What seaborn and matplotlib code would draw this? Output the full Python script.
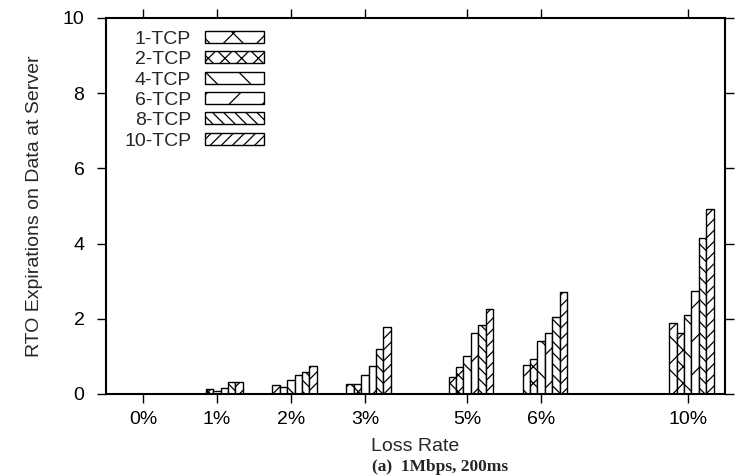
import matplotlib
matplotlib.use("Agg")
import matplotlib.pyplot as plt
import seaborn as sns
import pandas as pd
from matplotlib.patches import Patch

# ---- data ----
loss_labels = ["0%", "1%", "2%", "3%", "5%", "6%", "10%"]
loss_pos = [0.0, 1.0, 2.0, 3.0, 4.38, 5.38, 7.36]   # axis position of each loss-rate group
series = ["1-TCP", "2-TCP", "4-TCP", "6-TCP", "8-TCP", "10-TCP"]
tcp1 = [0.0, 0.00, 0.25, 0.27, 0.44, 0.77, 1.89]
tcp2 = [0.0, 0.12, 0.19, 0.27, 0.71, 0.93, 1.61]
tcp4 = [0.0, 0.08, 0.38, 0.51, 1.02, 1.42, 2.11]
tcp6 = [0.0, 0.17, 0.51, 0.74, 1.61, 1.62, 2.75]
tcp8 = [0.0, 0.31, 0.58, 1.19, 1.84, 2.06, 4.15]
tcp10 = [0.0, 0.33, 0.75, 1.79, 2.25, 2.70, 4.93]
y_ticks = [0, 2, 4, 6, 8, 10]

# ---- styling ----
hatches = ["x", "xx", "\\", "/", "\\\\\\", "///"]
group_shift = 0.05
FS = 14

sns.set_style("ticks")
plt.rcParams["font.family"] = ["Liberation Sans", "DejaVu Sans"]
plt.rcParams["hatch.linewidth"] = 0.9

values = [tcp1, tcp2, tcp4, tcp6, tcp8, tcp10]
rows = []
for name, vals in zip(series, values):
    for p, v in zip(loss_pos, vals):
        rows.append({"x": p + group_shift, "value": v, "series": name})
df = pd.DataFrame(rows)

fig = plt.figure(figsize=(7.44, 4.76), dpi=100)
ax = fig.add_axes([106 / 744, 1 - 394 / 476, (725 - 106) / 744, (394 - 18) / 476])

sns.barplot(data=df, x="x", y="value", hue="series", hue_order=series,
            native_scale=True, width=0.6, palette=["white"] * 6, saturation=1,
            edgecolor="black", linewidth=1.0, errorbar=None, legend=False, ax=ax)

for cont, h in zip(ax.containers, hatches):
    for bar in cont:
        bar.set_hatch(h)
        bar.set_edgecolor("black")

ax.set_xlim(-0.5, 7.865)
ax.set_ylim(0, 10)
ax.set_xticks(loss_pos)
ax.set_xticklabels(loss_labels)
ax.set_yticks(y_ticks)
ax.set_yticklabels([str(t) for t in y_ticks])
ax.tick_params(axis="both", which="major", direction="out", length=6.5, width=1.0,
               colors="black", labelsize=FS, top=True, right=True,
               labeltop=False, labelright=False)
ax.tick_params(axis="x", pad=6)
ax.tick_params(axis="y", pad=9)
for s in ax.spines.values():
    s.set_visible(True)
    s.set_linewidth(1.5)
    s.set_color("black")

ax.set_xlabel("Loss Rate", fontsize=FS, labelpad=7)
ax.set_ylabel("RTO Expirations on Data at Server", fontsize=FS, labelpad=14)

handles = [Patch(facecolor="white", edgecolor="black", hatch=h, label=s, linewidth=1.0)
           for s, h in zip(series, hatches)]
ax.legend(handles=handles, loc="upper left", bbox_to_anchor=(124 / 744, 1 - 31 / 476),
          bbox_transform=fig.transFigure, markerfirst=False, frameon=False,
          fontsize=FS, handlelength=3.05, handleheight=0.57, labelspacing=0.17,
          handletextpad=0.7, borderpad=0, borderaxespad=0)

fig.text(372 / 744, 1 / 476, "(a)  1Mbps, 200ms", fontsize=12.5, fontweight="bold",
         family=["Liberation Serif", "DejaVu Serif"], ha="left", va="bottom")

fig.savefig("out.png", dpi=100, facecolor="white")
